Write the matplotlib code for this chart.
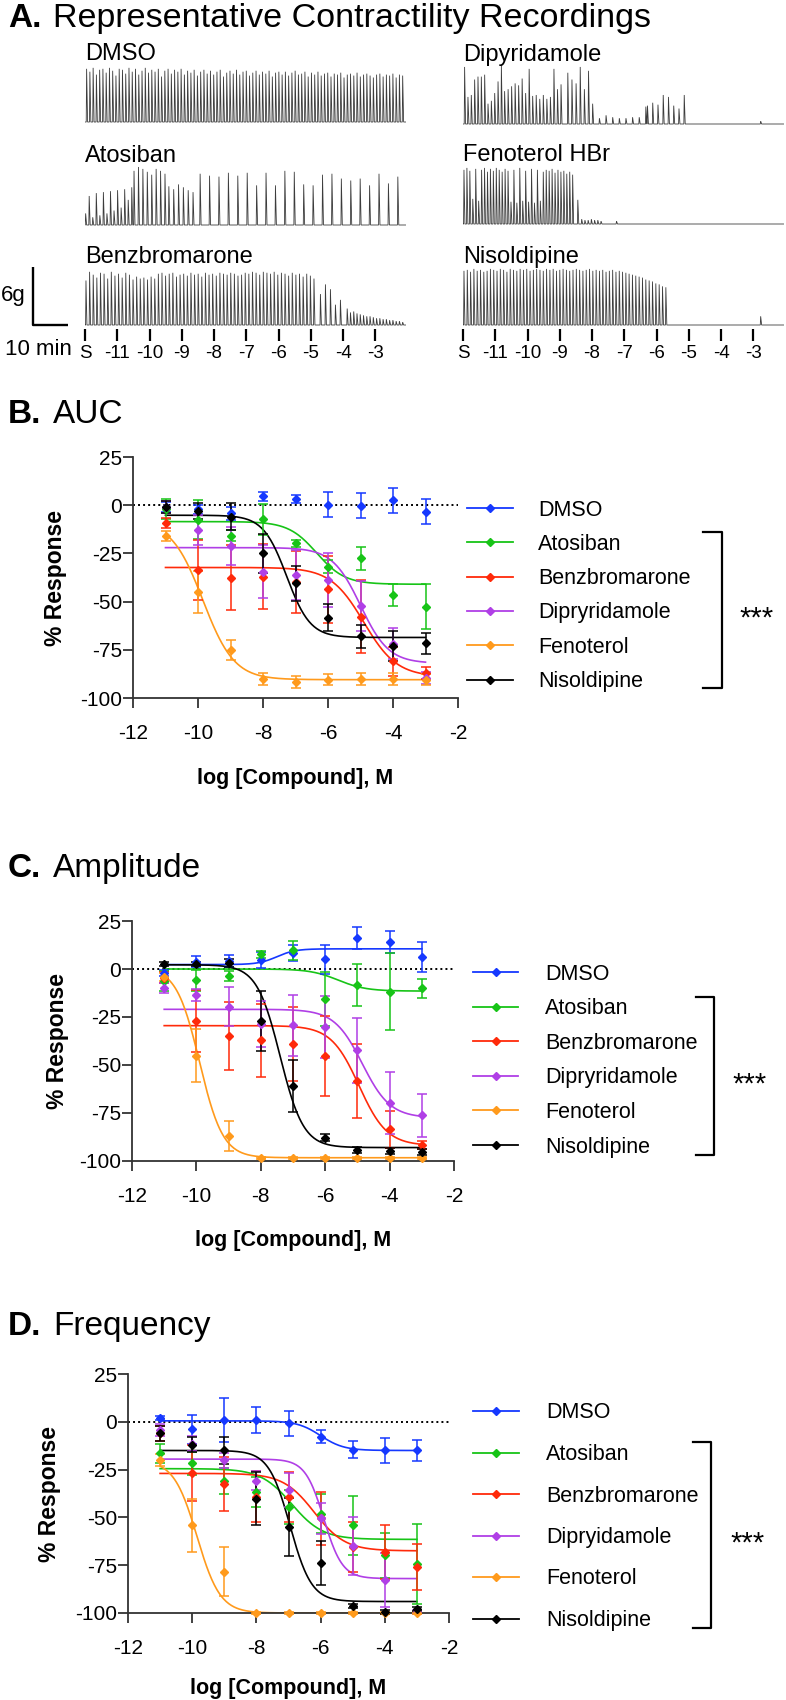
import numpy as np
import matplotlib
matplotlib.use("Agg")
import matplotlib.pyplot as plt

plt.rcParams['font.family'] = ['Liberation Sans', 'DejaVu Sans']
plt.rcParams['axes.unicode_minus'] = False

W, H = 786, 1700

# ---------------- panel A: representative recordings ----------------
# each trace: runs of (start, end, spike amplitudes in g), time in dose-steps
dose_tick_labels = ['S', '-11', '-10', '-9', '-8', '-7', '-6', '-5', '-4', '-3']

dmso_trace = [
    (0.05, 9.85, [5.5, 5.2, 5.6, 4.9, 5.4, 5.5, 5.1, 5.6, 5.3, 4.8,
                  5.5, 5.4, 5.0, 5.6, 5.2, 5.5, 4.9, 5.3, 5.6, 5.1,
                  5.4, 5.2, 5.5, 4.7, 5.3, 5.5, 5.0, 5.4, 5.2, 5.5,
                  4.9, 5.3, 5.1, 5.4, 4.8, 5.2, 5.4, 5.0, 5.3, 4.9,
                  5.2, 5.4, 4.7, 5.1, 5.3, 5.0, 5.4, 4.9, 5.2, 5.3,
                  4.8, 5.1, 5.3, 4.9, 5.2, 5.0, 5.3, 4.7, 5.1, 5.2,
                  4.9, 5.2, 4.8, 5.1, 5.3, 4.9, 5.0, 5.2, 4.7, 5.1,
                  4.9, 5.2, 4.8, 5.0, 5.1, 4.7, 5.0, 4.9, 5.1, 4.6,
                  4.9, 5.0, 4.8, 5.1, 4.7, 4.9, 5.0, 4.8, 4.6, 4.9,
                  5.0, 4.7, 4.9, 4.8, 5.0, 4.6, 4.9, 4.8]),
]
atosiban_trace = [
    (0.02, 1.45, [1.2, 3.0, 0.8, 3.3, 1.0, 3.4, 1.2, 3.5, 1.5, 3.6, 1.8, 3.7, 2.6, 3.9]),
    (1.52, 2.48, [5.6, 6.0, 5.8, 5.5, 5.2, 5.8, 5.6, 5.3]),
    (2.60, 3.35, [4.0, 3.7, 4.2, 3.9, 3.6, 3.4]),
    (3.57, 9.70, [5.3, 5.1, 5.0, 5.4, 5.1, 5.4, 4.1, 5.4, 4.1, 5.6, 5.5,
                  4.2, 4.1, 5.2, 5.3, 4.8, 4.6, 4.8, 4.1, 5.3, 4.3, 5.0]),
]
benz_trace = [
    (0.03, 7.10, [4.6, 5.5, 5.2, 4.9, 5.4, 5.3, 4.8, 5.5, 5.1, 5.3,
                  4.9, 5.4, 5.2, 4.7, 5.0, 4.8, 4.9, 4.7, 5.0, 4.8,
                  5.3, 5.4, 5.1, 5.3, 5.4, 5.0, 5.2, 5.3, 5.1, 5.4,
                  5.2, 5.3, 5.0, 5.4, 5.2, 5.3, 5.1, 5.4, 5.3, 5.2,
                  5.4, 5.3, 5.1, 5.2, 5.4, 5.3, 5.5, 5.4, 5.2, 5.5,
                  5.4, 5.3, 5.5, 5.2, 5.4, 5.3, 5.1, 5.4, 5.2, 5.3,
                  5.0, 5.3, 5.1, 4.8]),
    (7.30, 7.92, [3.2, 4.2, 3.7, 2.1, 2.6]),
    (8.13, 9.85, [1.7, 1.3, 1.4, 1.2, 1.1, 1.0, 0.9, 0.9, 0.8, 0.7,
                  0.7, 0.6, 0.6, 0.5, 0.5, 0.4, 0.4, 0.3]),
]
dipy_trace = [
    (0.05, 1.19, [5.9, 2.8, 3.0, 4.6, 4.9, 4.9, 5.1, 2.1, 2.4, 3.2, 4.4, 6.1]),
    (1.29, 2.16, [3.4, 3.6, 3.9, 4.2, 4.0, 4.7, 3.2, 5.7, 2.9]),
    (2.27, 3.04, [3.0, 2.6, 3.0, 2.6, 2.8, 5.7, 3.6, 4.1]),
    (3.25, 4.02, [5.3, 4.6, 4.2, 5.9, 3.6, 5.5, 2.1]),
    (4.23, 5.67, [0.6, 0.9, 0.7, 0.6, 0.6, 0.7, 0.7, 1.8]),
    (5.72, 6.86, [1.9, 2.2, 2.0, 3.0, 2.8, 1.9, 1.6, 3.0]),
    (9.23, 9.23, [0.3]),
]
feno_trace = [
    (0.03, 3.40, [5.6, 5.8, 5.5, 2.6, 5.7, 2.4, 5.6, 5.8, 5.4, 5.7,
                  5.5, 5.8, 5.6, 5.4, 5.7, 5.5, 2.3, 5.6, 2.2, 5.8,
                  2.4, 5.5, 2.3, 5.7, 2.2, 5.6, 2.4, 5.4, 5.6, 5.5,
                  5.7, 5.3, 5.6, 5.4, 5.5, 5.2, 5.4, 5.1]),
    (3.56, 3.56, [2.5]),
    (3.68, 4.28, [0.5, 0.4, 0.4, 0.5, 0.4, 0.4, 0.3]),
    (4.76, 4.76, [0.3]),
]
nisol_trace = [
    (0.03, 5.05, [5.6, 5.7, 5.5, 5.8, 5.6, 5.7, 5.5, 5.6, 5.8, 5.7,
                  5.6, 5.8, 5.7, 5.5, 5.8, 5.7, 5.6, 5.8, 5.7, 5.8,
                  5.6, 5.7, 5.8, 5.7, 5.6, 5.8, 5.7, 5.8, 5.6, 5.7,
                  5.8, 5.7, 5.6, 5.7, 5.8, 5.7, 5.6, 5.7, 5.8, 5.6,
                  5.7, 5.6, 5.7, 5.5, 5.6, 5.7, 5.5, 5.6, 5.5, 5.4]),
    (5.15, 6.29, [5.3, 5.2, 5.1, 5.0, 4.9, 4.7, 4.6, 4.5, 4.3, 4.2, 4.0, 3.9]),
    (9.23, 9.23, [0.9]),
]

# ---------------- panels B-D: dose response ----------------
doses = [-11, -10, -9, -8, -7, -6, -5, -4, -3]
compounds = ['DMSO', 'Atosiban', 'Benzbromarone', 'Dipyridamole', 'Fenoterol', 'Nisoldipine']
colors = ['#1538ff', '#17c417', '#ff2a0a', '#b03fe6', '#ff9a1c', '#000000']
labels_bc = ['DMSO', 'Atosiban', 'Benzbromarone', 'Dipryridamole', 'Fenoterol', 'Nisoldipine']
labels_d = ['DMSO', 'Atosiban', 'Benzbromarone', 'Dipryidamole', 'Fenoterol', 'Nisoldipine']

auc_mean = {
    'DMSO': [-0.9, -2.2, -4.3, 4.7, 3.4, 0.3, -0.3, 2.6, -3.4],
    'Atosiban': [-2, -7.5, -15.8, -7.2, -19.8, -31.9, -27.6, -46.6, -52.6],
    'Benzbromarone': [-9, -33.6, -37.6, -37, -39.7, -43.6, -57.8, -81, -87],
    'Dipyridamole': [-1, -12.9, -21.2, -34.5, -36.2, -38.8, -52.2, -71.9, -89.5],
    'Fenoterol': [-15.9, -44.8, -75.3, -90.2, -91.7, -90.5, -90.2, -90.2, -90.5],
    'Nisoldipine': [-1, -3, -6, -25, -40.5, -58.3, -68.1, -73, -71.6],
}
auc_err = {
    'DMSO': [2.6, 2.3, 3.5, 2.3, 2.0, 6.6, 6.5, 6.5, 6.5],
    'Atosiban': [5, 10, 3, 8, 2, 3.5, 6, 5.8, 11.7],
    'Benzbromarone': [2.6, 15.5, 17, 17, 16, 17.5, 19, 7.5, 3],
    'Dipyridamole': [3, 8, 10, 13.8, 13, 13.8, 13, 8, 3],
    'Fenoterol': [2.6, 10.9, 5.2, 3, 3, 3, 3, 3, 3],
    'Nisoldipine': [3, 4, 6.9, 10, 9, 7, 6, 8, 5.5],
}
# fit parameters: (left plateau, right plateau, logEC50, hill)
auc_fit = {
    'DMSO': None,
    'Atosiban': (-8.5, -41, -6.35, 1.0),
    'Benzbromarone': (-32.3, -89, -4.9, 0.85),
    'Dipyridamole': (-22, -82, -5.0, 1.0),
    'Fenoterol': (-8, -90.5, -9.85, 0.9),
    'Nisoldipine': (-5.2, -68.6, -7.27, 1.2),
}

amp_mean = {
    'DMSO': [-2.2, 3.8, 4.2, 4.7, 8.3, 5.0, 16.0, 14.0, 6.3],
    'Atosiban': [-6.3, -5.9, -3.6, 7.6, 9.7, -15.8, -8.5, -11.8, -10.0],
    'Benzbromarone': [-4.5, -27, -35, -37.2, -38.9, -45.3, -58.3, -83.5, -91.7],
    'Dipyridamole': [-9.7, -13.5, -19.6, -28.8, -29.3, -30.2, -42.4, -69.8, -76.2],
    'Fenoterol': [-4, -45.1, -87, -98.3, -98.3, -98.3, -98.3, -98.3, -98.3],
    'Nisoldipine': [2.4, 2.5, 3.0, -27, -61, -87.8, -94.3, -94.8, -95.3],
}
amp_err = {
    'DMSO': [1.5, 2.9, 3, 4.3, 4.2, 7.6, 5.8, 5.9, 7.9],
    'Atosiban': [5, 5.6, 2.5, 2, 5, 14, 11, 20, 5],
    'Benzbromarone': [3, 16, 17.6, 19, 19.3, 21, 19.4, 9.5, 2],
    'Dipyridamole': [2.6, 3, 10, 12, 16, 16, 17, 16, 11.3],
    'Fenoterol': [2, 14, 7.6, 0.6, 0.6, 0.6, 0.6, 0.6, 0.6],
    'Nisoldipine': [1, 1, 2, 15.5, 13.6, 2, 1.5, 1.5, 1.5],
}
amp_fit = {
    'DMSO': (2.3, 10.5, -7.5, 1.5),
    'Atosiban': (0, -11.5, -5.6, 1.0),
    'Benzbromarone': (-29.5, -92, -4.95, 1.0),
    'Dipyridamole': (-21, -77.5, -4.85, 1.0),
    'Fenoterol': (1, -98.3, -9.9, 1.2),
    'Nisoldipine': (2.2, -93, -7.4, 1.2),
}

freq_mean = {
    'DMSO': [1.9, -4, 1, 1, -0.7, -7.7, -14.5, -15, -15],
    'Atosiban': [-16.4, -21.6, -31, -36.8, -44.6, -48, -54.2, -69.9, -74.2],
    'Benzbromarone': [-6, -26.7, -32.6, -39.2, -39.2, -50.5, -65.3, -68, -76],
    'Dipyridamole': [-4.4, -11.5, -20.2, -30.8, -35.7, -50.5, -65, -82.7, -99.5],
    'Fenoterol': [-19.9, -54.2, -78.4, -100, -100, -100, -100, -100, -100],
    'Nisoldipine': [-6, -12, -15, -40.2, -55, -74, -96.3, -99.3, -98],
}
freq_err = {
    'DMSO': [1, 7.5, 11.5, 7, 6.6, 3.5, 4.4, 6.5, 5.4],
    'Atosiban': [5, 6, 7, 8, 9, 10, 15.6, 12, 21],
    'Benzbromarone': [4, 14.5, 14, 13.3, 13, 14, 13, 14, 12],
    'Dipyridamole': [3, 4, 4, 5, 9, 8, 15, 14, 1],
    'Fenoterol': [3, 14, 12.7, 0.5, 0.5, 0.5, 0.5, 0.5, 0.5],
    'Nisoldipine': [4, 4, 7, 14, 15, 11.4, 1, 1, 1],
}
freq_fit = {
    'DMSO': (0.5, -15, -6.0, 1.2),
    'Atosiban': (-24.5, -61.5, -6.9, 0.9),
    'Benzbromarone': (-27, -67.5, -6.2, 0.9),
    'Dipyridamole': (-19.5, -82, -5.9, 1.5),
    'Fenoterol': (-20, -100, -9.85, 1.2),
    'Nisoldipine': (-15, -94, -6.95, 1.3),
}


def px_axes(x0, y0, x1, y1, **kw):
    return fig.add_axes([x0 / W, 1 - y1 / H, (x1 - x0) / W, (y1 - y0) / H], **kw)


def four_pl(x, top, bottom, logec, hill):
    return bottom + (top - bottom) / (1 + 10 ** ((x - logec) * hill))


fig = plt.figure(figsize=(W / 100, H / 100), dpi=100)
ov = px_axes(0, 0, W, H, zorder=5)
ov.set_xlim(0, W)
ov.set_ylim(H, 0)
ov.axis('off')

# ---- A: traces ----
G_PX = 9.67      # pixels per gram
STEP_PX = 32.25  # pixels per dose step
T_END = 9.94


def draw_trace(x0, base, runs, with_ticks=False):
    ax = px_axes(x0, base - 62, x0 + T_END * STEP_PX, base + 4)
    xs, ys = [0.0], [0.0]
    for t0, t1, amps in runs:
        ts = np.linspace(t0, t1, len(amps))
        for t, a in zip(ts, amps):
            xs += [t - 0.012, t, t + 0.03]
            ys += [0.0, a, 0.0]
    xs.append(T_END)
    ys.append(0.0)
    ax.plot(xs, ys, color='#3c3c3c', lw=0.6, solid_joinstyle='miter')
    ax.set_xlim(0, T_END)
    ax.set_ylim(-4 / G_PX, 62 / G_PX)
    for s in ax.spines.values():
        s.set_visible(False)
    ax.set_yticks([])
    if with_ticks:
        ax.set_xticks(range(10))
        ax.set_xticklabels(dose_tick_labels)
        ax.tick_params(axis='x', direction='out', length=8.5, width=1.6, pad=3, labelsize=13.5)
    else:
        ax.set_xticks([])
    return ax


draw_trace(85, 122, dmso_trace)
draw_trace(85, 225, atosiban_trace)
draw_trace(85, 325, benz_trace, with_ticks=True)
draw_trace(463, 124, dipy_trace)
draw_trace(463, 224, feno_trace)
draw_trace(463, 325, nisol_trace, with_ticks=True)

ov.text(8, 27, 'A.', fontsize=24, fontweight='bold', va='baseline')
ov.text(53, 27, 'Representative Contractility Recordings', fontsize=24.5, va='baseline')
for x, y, s in [(85, 60, 'DMSO'), (85, 162, 'Atosiban'), (85, 263, 'Benzbromarone'),
                (463, 61, 'Dipyridamole'), (463, 161, 'Fenoterol HBr'), (463, 263, 'Nisoldipine')]:
    ov.text(x, y, s, fontsize=17, va='baseline')

# scale bar
ov.plot([33, 33, 68], [267, 325, 325], color='k', lw=1.7, solid_capstyle='butt')
ov.text(26, 295, '6g', fontsize=16, ha='right', va='center')
ov.text(5, 355, '10 min', fontsize=16, va='baseline')


# ---- B-D ----
def dose_panel(box, means, errs, fits, title, title_y, leg, label_coords):
    ax = px_axes(*box)
    ax.axhline(0, color='k', lw=1.4, ls=(0, (1, 1.6)), zorder=1)
    xf = np.linspace(-11, -3, 300)
    for name, c in zip(compounds, colors):
        if fits[name] is not None:
            ax.plot(xf, four_pl(xf, *fits[name]), color=c, lw=1.2, zorder=2)
        ax.errorbar(doses, means[name], yerr=errs[name], fmt='D', ms=4.5, color=c,
                    ecolor=c, elinewidth=1.1, capsize=3.6, capthick=1.1, zorder=3,
                    clip_on=False)
    ax.set_xlim(-12, -2)
    ax.set_ylim(-100, 25)
    ax.set_xticks(range(-12, -1, 2))
    ax.set_yticks([25, 0, -25, -50, -75, -100])
    for side in ['top', 'right']:
        ax.spines[side].set_visible(False)
    for side in ['left', 'bottom']:
        ax.spines[side].set_linewidth(1.3)
        ax.spines[side].set_color('#333333')
    ax.tick_params(axis='both', direction='out', length=7, width=1.3, color='#333333',
                   labelsize=15)
    ax.tick_params(axis='x', pad=12)
    ax.tick_params(axis='y', pad=1)
    ax.set_xlabel('log [Compound], M', fontsize=15.5, fontweight='bold')
    ax.set_ylabel('% Response', fontsize=16.5, fontweight='bold')
    ax.xaxis.set_label_coords(0.5, label_coords[0])
    ax.yaxis.set_label_coords(label_coords[1], 0.5)
    ax.xaxis.label.set_va('center')
    ax.yaxis.label.set_va('center')

    letter, rest = title
    ov.text(8, title_y, letter, fontsize=24, fontweight='bold', va='baseline')
    ov.text(53, title_y, rest, fontsize=24, va='baseline')

    lx0, lx1, tx, y0, dy, labels, br_x, br_left, br_top, br_bot, star_x = leg
    for i, (lab, c) in enumerate(zip(labels, colors)):
        y = y0 + i * dy
        ov.plot([lx0, lx1], [y, y], color=c, lw=1.3)
        ov.plot([(lx0 + lx1) / 2], [y], marker='D', ms=4.5, color=c)
        ov.text(tx, y + 7.5, lab, fontsize=15.5, va='baseline')
    ov.plot([br_left, br_x, br_x, br_left], [br_top, br_top, br_bot, br_bot],
            color='k', lw=1.6)
    ov.text(star_x, (br_top + br_bot) / 2 + 9, '***', fontsize=21, ha='center', va='center')
    return ax


dose_panel((133, 457, 458, 698), auc_mean, auc_err, auc_fit, ('B.', 'AUC'), 423,
           (467, 513, 538, 508, 34.3, labels_bc, 722, 703, 532, 688, 757), (-0.332, -0.237))
dose_panel((132, 921, 454, 1161), amp_mean, amp_err, amp_fit, ('C.', 'Amplitude'), 877,
           (473, 518, 545, 972, 34.6, labels_bc, 714, 696, 997, 1155, 750), (-0.333, -0.231))
dose_panel((128, 1374, 449, 1613), freq_mean, freq_err, freq_fit, ('D.', 'Frequency'), 1335,
           (473, 519, 546, 1411, 41.5, labels_d, 711, 693, 1442, 1628, 748), (-0.314, -0.243))

fig.savefig('out.png', dpi=100)
